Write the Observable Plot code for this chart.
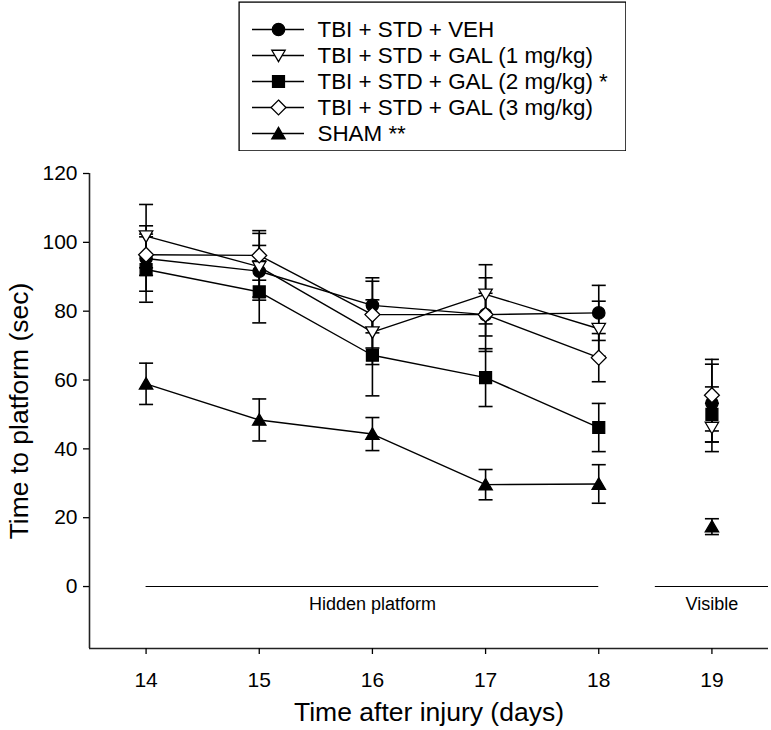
<!DOCTYPE html>
<html>
<head>
<meta charset="utf-8">
<script src="https://cdn.jsdelivr.net/npm/d3@7"></script>
<script src="https://cdn.jsdelivr.net/npm/@observablehq/plot@0.6"></script>
<style>
  body { margin: 0; background: #fff; }
  #wrap { position: relative; width: 771px; height: 730px; font-family: "Liberation Sans", Arial, sans-serif; }
  #legend { position: absolute; left: 238px; top: 1px; }
  #chart svg, #legend svg { display: block; }
</style>
</head>
<body>
<div id="wrap"><div id="chart"></div><div id="legend"></div></div>
<script>
// ---- data ----
const seriesNames = [
  "TBI + STD + VEH",
  "TBI + STD + GAL (1 mg/kg)",
  "TBI + STD + GAL (2 mg/kg) *",
  "TBI + STD + GAL (3 mg/kg)",
  "SHAM **"
];
const days = [14, 15, 16, 17, 18, 19];
const lastHiddenDay = 18;
const vehMean  = [95.3, 91.6, 81.7, 79.0, 79.5, 53.3];
const vehSem   = [9.5, 7.5, 8.0, 10.7, 8.0, 11.3];
const gal1Mean = [101.8, 92.9, 73.9, 84.9, 74.9, 46.2];
const gal1Sem  = [9.2, 9.7, 9.4, 8.6, 8.0, 7.0];
const gal2Mean = [92.1, 85.6, 67.2, 60.7, 46.2, 50.0];
const gal2Sem  = [9.5, 9.0, 11.8, 8.4, 7.0, 8.0];
const gal3Mean = [96.4, 96.2, 79.0, 79.0, 66.5, 55.6];
const gal3Sem  = [6.0, 7.2, 9.7, 6.2, 7.0, 10.4];
const shamMean = [58.9, 48.4, 44.3, 29.6, 29.8, 17.4];
const shamSem  = [6.0, 6.1, 4.8, 4.4, 5.6, 2.3];

const xTicks = [14, 15, 16, 17, 18, 19];
const yTicks = [0, 20, 40, 60, 80, 100, 120];
const xDomain = [13.5, 19.5];
const yDomain = [-18, 120];

const phaseLabels = ["Hidden platform", "Visible"];
const phaseStart = [14, 18.5];
const phaseEnd = [18, 19.5];
const phaseMid = [16, 19];

const xTitle = "Time after injury (days)";
const yTitle = "Time to platform (sec)";

// ---- table ----
const means = [vehMean, gal1Mean, gal2Mean, gal3Mean, shamMean];
const sems = [vehSem, gal1Sem, gal2Sem, gal3Sem, shamSem];
const data = [];
seriesNames.forEach((s, i) => days.forEach((d, j) =>
  data.push({series: s, day: d, mean: means[i][j], sem: sems[i][j]})));
const phases = phaseLabels.map((l, i) => ({label: l, start: phaseStart[i], end: phaseEnd[i], mid: phaseMid[i]}));

// ---- symbols ----
const R = s => Math.sqrt(s / Math.PI);
const symCircle = {draw(c, s) { const r = R(s); c.moveTo(r, 0); c.arc(0, 0, r, 0, 2 * Math.PI); c.closePath(); }};
const symSquare = {draw(c, s) { const h = R(s) * 0.96; c.rect(-h, -h, 2 * h, 2 * h); }};
const symDiamond = {draw(c, s) { const d = R(s) * 1.2; c.moveTo(0, -d); c.lineTo(d, 0); c.lineTo(0, d); c.lineTo(-d, 0); c.closePath(); }};
const symTriUp = {draw(c, s) { const r = R(s); c.moveTo(0, -r); c.lineTo(r * 1.08, r * 0.85); c.lineTo(-r * 1.08, r * 0.85); c.closePath(); }};
const symTriDown = {draw(c, s) { const r = R(s); c.moveTo(0, r); c.lineTo(r * 1.08, -r * 0.85); c.lineTo(-r * 1.08, -r * 0.85); c.closePath(); }};
const symCap = {draw(c, s) { const r = R(s); c.moveTo(-r, 0); c.lineTo(r, 0); }};

const symbols = [symCircle, symTriDown, symSquare, symDiamond, symTriUp];
const fills = ["black", "white", "black", "white", "black"];

const markerMarks = (rows, xOpt, yOpt) => seriesNames.map((s, i) =>
  Plot.dot(rows.filter(d => d.series === s), {
    x: xOpt, y: yOpt, symbol: symbols[i], r: 6.2, fill: fills[i], stroke: "black", strokeWidth: 1.3
  }));

const chart = Plot.plot({
  width: 771,
  height: 730,
  marginLeft: 89,
  marginRight: 3,
  marginTop: 173,
  marginBottom: 82,
  style: {fontFamily: "'Liberation Sans', Arial, sans-serif", color: "black", background: "white"},
  x: {domain: xDomain},
  y: {domain: yDomain},
  marks: [
    Plot.ruleX([xDomain[0]], {y1: yDomain[0], y2: yTicks[yTicks.length - 1], stroke: "#222", strokeWidth: 1.6}),
    Plot.ruleY([yDomain[0]], {x1: xDomain[0], x2: xDomain[1], stroke: "#222", strokeWidth: 1.6}),
    Plot.axisX({ticks: xTicks, tickSize: 6, tickPadding: 18, fontSize: 21, label: null, tickFormat: d => String(d), strokeWidth: 1.3}),
    Plot.axisY({ticks: yTicks, tickSize: 6, tickPadding: 6, fontSize: 21, label: null, tickFormat: d => String(d), strokeWidth: 1.3}),
    Plot.text([xTitle], {frameAnchor: "bottom", lineAnchor: "middle", textAnchor: "middle", dy: 64, fontSize: 26.5, text: d => d}),
    Plot.text([yTitle], {frameAnchor: "left", lineAnchor: "middle", textAnchor: "middle", dx: -70, rotate: -90, fontSize: 26.5, text: d => d}),
    Plot.ruleY(phases, {y: 0, x1: "start", x2: "end", stroke: "black", strokeWidth: 1.1}),
    Plot.text(phases, {x: "mid", y: 0, dy: 18, text: "label", fontSize: 18}),
    Plot.line(data.filter(d => d.day <= lastHiddenDay), {x: "day", y: "mean", z: "series", stroke: "black", strokeWidth: 1.4}),
    Plot.ruleX(data, {x: "day", y1: d => d.mean - d.sem, y2: d => d.mean + d.sem, stroke: "black", strokeWidth: 1.6}),
    Plot.dot(data, {x: "day", y: d => d.mean + d.sem, symbol: symCap, r: 7, fill: "none", stroke: "black", strokeWidth: 1.6}),
    Plot.dot(data, {x: "day", y: d => d.mean - d.sem, symbol: symCap, r: 7, fill: "none", stroke: "black", strokeWidth: 1.6}),
    ...markerMarks(data, "day", "mean")
  ]
});
document.getElementById("chart").appendChild(chart);

// ---- legend ----
const legendRows = seriesNames.map(s => ({series: s}));
const legend = Plot.plot({
  width: 388,
  height: 150,
  margin: 0,
  style: {fontFamily: "'Liberation Sans', Arial, sans-serif", color: "black", background: "white"},
  x: {domain: [0, 388], axis: null},
  y: {type: "point", domain: seriesNames, range: [27.3, 132.3], padding: 0, axis: null},
  marks: [
    Plot.frame({stroke: "black", strokeWidth: 1.3, inset: 0.6}),
    Plot.ruleY(legendRows, {y: "series", x1: 14, x2: 66, stroke: "black", strokeWidth: 1.4}),
    ...markerMarks(legendRows, () => 40, "series"),
    Plot.text(legendRows, {x: 79, y: "series", text: "series", textAnchor: "start", fontSize: 22.4})
  ]
});
document.getElementById("legend").appendChild(legend);
</script>
</body>
</html>
